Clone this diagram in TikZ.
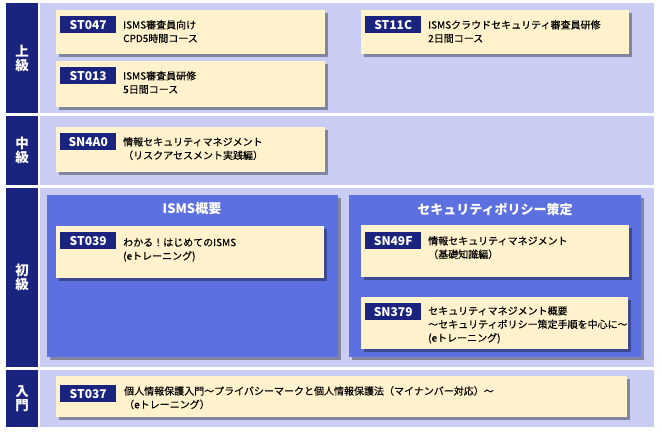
\documentclass[tikz,border=0pt]{standalone}
\usepackage{fontspec}
\setmainfont{Noto Sans CJK JP}
\newfontfamily\descfont[FakeBold=0.3]{Noto Sans CJK JP}
\usetikzlibrary{shadows}
\definecolor{navy}{HTML}{1A237E}
\definecolor{lavender}{HTML}{C9CDF3}
\definecolor{groupblue}{HTML}{5D70E0}
\definecolor{cream}{HTML}{FFF2CC}
\tikzset{
  softshadow/.style={drop shadow={shadow xshift=2.5pt,shadow yshift=-2.5pt,fill=black,opacity=0.35}},
  lvlbox/.style={fill=navy,text=white,anchor=north west,minimum width=32pt,inner sep=0pt,align=center,font=\bfseries\fontsize{13.5}{14}\selectfont},
  bandbox/.style={fill=lavender,anchor=north west,minimum width=614pt,inner sep=0pt},
  groupbox/.style={fill=groupblue,anchor=north west,inner sep=0pt,softshadow},
  grouptitle/.style={text=white,inner sep=0pt,font=\bfseries\fontsize{13}{13}\selectfont},
  card/.style={fill=cream,anchor=north west,inner sep=0pt,softshadow},
  badge/.style={fill=navy,text=white,anchor=north west,minimum width=56pt,minimum height=17pt,inner sep=0pt,font=\bfseries\fontsize{12}{12}\selectfont},
  desc/.style={anchor=north west,inner sep=0pt,align=left,font=\descfont\fontsize{10}{13.5}\selectfont}
}
\begin{document}
\begin{tikzpicture}[x=1pt,y=-1pt]
				\useasboundingbox[fill=white] (0,0) rectangle (662,432);
				% levels
				\node[lvlbox, minimum height=110pt] (adv) at (6,3) {上\\級};
				\node[lvlbox, minimum height=69pt] (mid) at (6,116) {中\\級};
				\node[lvlbox, minimum height=179pt] (beg) at (6,188) {初\\級};
				\node[lvlbox, minimum height=57pt] (intro) at (6,370) {入\\門};
				\node[bandbox, minimum height=110pt] (advband) at (40,3) {};
				\node[bandbox, minimum height=69pt] (midband) at (40,116) {};
				\node[bandbox, minimum height=179pt] (begband) at (40,188) {};
				\node[bandbox, minimum height=57pt] (introband) at (40,370) {};
				% groups
				\node[groupbox, minimum width=291pt, minimum height=162pt] (isms) at (47,195) {};
				\node[groupbox, minimum width=292pt, minimum height=162pt] (policy) at (349,195) {};
				\node[grouptitle] (ismstitle) at (192,209) {ISMS概要};
				\node[grouptitle] (policytitle) at (495,209) {セキュリティポリシー策定};
				% courses
				\node[card, minimum width=269pt, minimum height=44pt] (st047) at (56,10) {};
				\node[badge] (st047id) at ([xshift=4pt,yshift=-6pt]st047.north west) {ST047};
				\node[desc] (st047txt) at ([xshift=67pt,yshift=-10pt]st047.north west) {ISMS審査員向け\\CPD5時間コース};
				\node[card, minimum width=269pt, minimum height=46pt] (st013) at (56,61) {};
				\node[badge] (st013id) at ([xshift=4pt,yshift=-6pt]st013.north west) {ST013};
				\node[desc] (st013txt) at ([xshift=67pt,yshift=-10pt]st013.north west) {ISMS審査員研修\\5日間コース};
				\node[card, minimum width=268pt, minimum height=44pt] (st11c) at (361,10) {};
				\node[badge] (st11cid) at ([xshift=4pt,yshift=-6pt]st11c.north west) {ST11C};
				\node[desc] (st11ctxt) at ([xshift=67pt,yshift=-10pt]st11c.north west) {ISMSクラウドセキュリティ審査員研修\\2日間コース};
				\node[card, minimum width=269pt, minimum height=45pt] (sn4a0) at (56,127) {};
				\node[badge] (sn4a0id) at ([xshift=4pt,yshift=-6pt]sn4a0.north west) {SN4A0};
				\node[desc] (sn4a0txt) at ([xshift=67pt,yshift=-10pt]sn4a0.north west) {情報セキュリティマネジメント\\（リスクアセスメント実践編）};
				\node[card, minimum width=268pt, minimum height=52pt] (st039) at (56,226) {};
				\node[badge] (st039id) at ([xshift=4pt,yshift=-6pt]st039.north west) {ST039};
				\node[desc] (st039txt) at ([xshift=67pt,yshift=-12pt]st039.north west) {わかる！はじめてのISMS\\(eトレーニング)};
				\node[card, minimum width=268pt, minimum height=52pt] (sn49f) at (361,225) {};
				\node[badge] (sn49fid) at ([xshift=4pt,yshift=-7pt]sn49f.north west) {SN49F};
				\node[desc] (sn49ftxt) at ([xshift=67pt,yshift=-11pt]sn49f.north west) {情報セキュリティマネジメント\\（基礎知識編）};
				\node[card, minimum width=267pt, minimum height=52pt] (sn379) at (361,297) {};
				\node[badge] (sn379id) at ([xshift=4pt,yshift=-6pt]sn379.north west) {SN379};
				\node[desc] (sn379txt) at ([xshift=67pt,yshift=-9pt]sn379.north west) {セキュリティマネジメント概要\\～セキュリティポリシー策定手順を中心に～\\(eトレーニング)};
				\node[card, minimum width=571pt, minimum height=41pt] (st037) at (56,376) {};
				\node[badge] (st037id) at ([xshift=4pt,yshift=-9pt]st037.north west) {ST037};
				\node[desc] (st037txt) at ([xshift=68pt,yshift=-10pt]st037.north west) {個人情報保護入門～プライバシーマークと個人情報保護法（マイナンバー対応）～\\（eトレーニング）};
			\end{tikzpicture}
\end{document}
